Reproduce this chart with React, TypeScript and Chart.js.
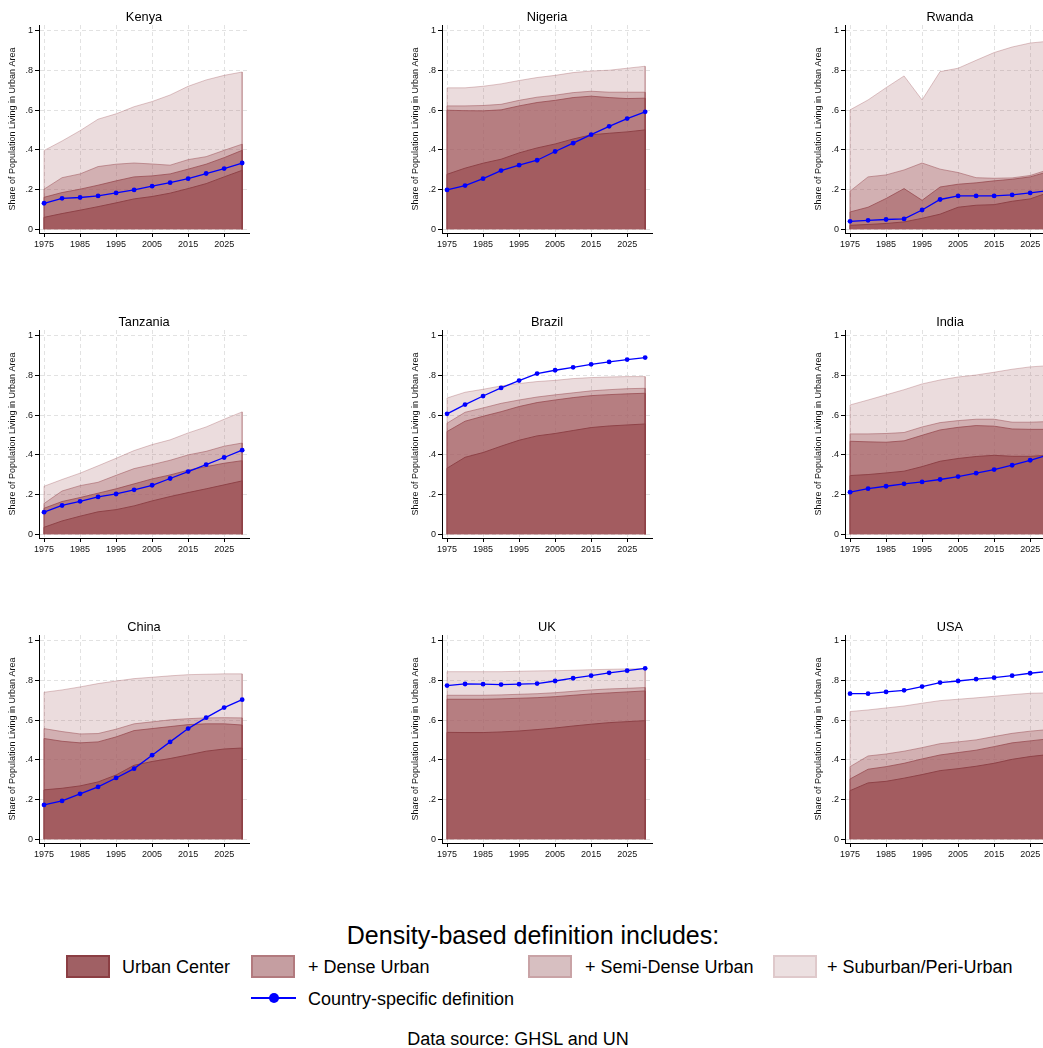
import React, { useEffect, useRef } from 'react';
import { Chart, registerables } from 'chart.js';

Chart.register(...registerables);

const YEARS = [1975, 1980, 1985, 1990, 1995, 2000, 2005, 2010, 2015, 2020, 2025, 2030];
const X_TICKS = [1975, 1985, 1995, 2005, 2015, 2025];
const Y_TICKS = [0, 0.2, 0.4, 0.6, 0.8, 1];
const Y_TICK_LABELS = ['0', '.2', '.4', '.6', '.8', '1'];
const Y_TITLE = 'Share of Population Living in Urban Area';

// Kenya
const KENYA_CENTER = [0.06, 0.079, 0.096, 0.114, 0.133, 0.153, 0.165, 0.182, 0.205, 0.23, 0.264, 0.297];
const KENYA_DENSE = [0.161, 0.185, 0.202, 0.222, 0.244, 0.264, 0.269, 0.279, 0.303, 0.328, 0.361, 0.398];
const KENYA_SEMI = [0.202, 0.26, 0.279, 0.316, 0.328, 0.334, 0.329, 0.323, 0.351, 0.366, 0.398, 0.429];
const KENYA_SUB = [0.397, 0.445, 0.497, 0.555, 0.582, 0.618, 0.644, 0.677, 0.721, 0.753, 0.776, 0.793];
const KENYA_NATIONAL = [0.131, 0.156, 0.16, 0.168, 0.183, 0.198, 0.217, 0.235, 0.255, 0.281, 0.306, 0.334];

// Nigeria
const NIGERIA_CENTER = [0.277, 0.308, 0.333, 0.353, 0.385, 0.41, 0.43, 0.455, 0.476, 0.484, 0.491, 0.501];
const NIGERIA_DENSE = [0.6, 0.598, 0.597, 0.602, 0.622, 0.639, 0.65, 0.664, 0.671, 0.664, 0.659, 0.661];
const NIGERIA_SEMI = [0.622, 0.622, 0.624, 0.63, 0.65, 0.666, 0.676, 0.689, 0.696, 0.691, 0.691, 0.691];
const NIGERIA_SUB = [0.713, 0.713, 0.721, 0.733, 0.75, 0.765, 0.776, 0.79, 0.798, 0.802, 0.812, 0.822];
const NIGERIA_NATIONAL = [0.198, 0.22, 0.255, 0.296, 0.323, 0.348, 0.392, 0.434, 0.477, 0.519, 0.558, 0.592];

// Rwanda
const RWANDA_CENTER = [0.02, 0.024, 0.029, 0.037, 0.055, 0.076, 0.111, 0.121, 0.124, 0.141, 0.153, 0.185];
const RWANDA_DENSE = [0.087, 0.111, 0.155, 0.205, 0.146, 0.213, 0.227, 0.234, 0.244, 0.252, 0.264, 0.29];
const RWANDA_SEMI = [0.192, 0.264, 0.274, 0.299, 0.334, 0.303, 0.286, 0.26, 0.257, 0.259, 0.271, 0.3];
const RWANDA_SUB = [0.602, 0.652, 0.714, 0.773, 0.652, 0.795, 0.812, 0.852, 0.891, 0.919, 0.939, 0.948];
const RWANDA_NATIONAL = [0.04, 0.045, 0.049, 0.052, 0.097, 0.15, 0.168, 0.168, 0.168, 0.173, 0.183, 0.195];

// Tanzania
const TANZANIA_CENTER = [0.035, 0.067, 0.091, 0.113, 0.124, 0.143, 0.168, 0.19, 0.21, 0.229, 0.249, 0.269];
const TANZANIA_DENSE = [0.131, 0.165, 0.185, 0.207, 0.229, 0.254, 0.279, 0.299, 0.323, 0.341, 0.358, 0.371];
const TANZANIA_SEMI = [0.155, 0.218, 0.245, 0.262, 0.297, 0.331, 0.351, 0.373, 0.4, 0.418, 0.444, 0.46];
const TANZANIA_SUB = [0.242, 0.276, 0.308, 0.345, 0.383, 0.422, 0.452, 0.476, 0.511, 0.541, 0.58, 0.617];
const TANZANIA_NATIONAL = [0.111, 0.145, 0.166, 0.188, 0.203, 0.224, 0.247, 0.281, 0.316, 0.351, 0.387, 0.424];

// Brazil
const BRAZIL_CENTER = [0.333, 0.388, 0.412, 0.444, 0.474, 0.496, 0.508, 0.523, 0.538, 0.546, 0.551, 0.556];
const BRAZIL_DENSE = [0.518, 0.57, 0.595, 0.618, 0.644, 0.664, 0.677, 0.689, 0.699, 0.704, 0.708, 0.711];
const BRAZIL_SEMI = [0.56, 0.615, 0.637, 0.66, 0.677, 0.692, 0.703, 0.713, 0.723, 0.729, 0.734, 0.736];
const BRAZIL_SUB = [0.687, 0.716, 0.731, 0.748, 0.76, 0.77, 0.776, 0.785, 0.79, 0.793, 0.795, 0.795];
const BRAZIL_NATIONAL = [0.607, 0.654, 0.697, 0.738, 0.775, 0.81, 0.827, 0.842, 0.857, 0.869, 0.881, 0.891];

// India
const INDIA_CENTER = [0.296, 0.301, 0.309, 0.318, 0.341, 0.368, 0.382, 0.392, 0.398, 0.393, 0.393, 0.398];
const INDIA_DENSE = [0.469, 0.466, 0.464, 0.471, 0.499, 0.526, 0.539, 0.548, 0.545, 0.531, 0.529, 0.529];
const INDIA_SEMI = [0.506, 0.506, 0.508, 0.513, 0.541, 0.563, 0.573, 0.58, 0.58, 0.565, 0.565, 0.568];
const INDIA_SUB = [0.652, 0.677, 0.703, 0.729, 0.758, 0.778, 0.793, 0.803, 0.817, 0.832, 0.844, 0.85];
const INDIA_NATIONAL = [0.212, 0.23, 0.242, 0.254, 0.264, 0.276, 0.291, 0.308, 0.326, 0.348, 0.373, 0.4];

// China
const CHINA_CENTER = [0.249, 0.257, 0.269, 0.289, 0.324, 0.373, 0.392, 0.407, 0.425, 0.444, 0.455, 0.46];
const CHINA_DENSE = [0.508, 0.494, 0.486, 0.491, 0.516, 0.548, 0.558, 0.568, 0.578, 0.582, 0.582, 0.576];
const CHINA_SEMI = [0.558, 0.543, 0.531, 0.533, 0.555, 0.582, 0.592, 0.602, 0.608, 0.612, 0.613, 0.612];
const CHINA_SUB = [0.741, 0.753, 0.768, 0.785, 0.798, 0.81, 0.817, 0.824, 0.83, 0.832, 0.834, 0.834];
const CHINA_NATIONAL = [0.173, 0.193, 0.229, 0.264, 0.309, 0.356, 0.424, 0.491, 0.558, 0.613, 0.664, 0.704];

// UK
const UK_CENTER = [0.539, 0.538, 0.538, 0.541, 0.546, 0.553, 0.561, 0.571, 0.58, 0.588, 0.593, 0.598];
const UK_DENSE = [0.706, 0.706, 0.706, 0.708, 0.711, 0.714, 0.719, 0.726, 0.733, 0.738, 0.743, 0.748];
const UK_SEMI = [0.726, 0.726, 0.726, 0.728, 0.731, 0.734, 0.739, 0.746, 0.753, 0.758, 0.761, 0.765];
const UK_SUB = [0.845, 0.845, 0.845, 0.845, 0.847, 0.849, 0.85, 0.852, 0.855, 0.857, 0.859, 0.86];
const UK_NATIONAL = [0.775, 0.783, 0.782, 0.78, 0.782, 0.785, 0.798, 0.812, 0.825, 0.839, 0.85, 0.862];

// USA
const USA_CENTER = [0.245, 0.284, 0.292, 0.308, 0.326, 0.346, 0.356, 0.368, 0.383, 0.403, 0.417, 0.427];
const USA_DENSE = [0.304, 0.353, 0.366, 0.383, 0.405, 0.425, 0.437, 0.449, 0.467, 0.486, 0.496, 0.506];
const USA_SEMI = [0.366, 0.42, 0.43, 0.444, 0.462, 0.482, 0.491, 0.501, 0.518, 0.534, 0.545, 0.553];
const USA_SUB = [0.644, 0.652, 0.662, 0.672, 0.686, 0.699, 0.706, 0.713, 0.721, 0.729, 0.736, 0.738];
const USA_NATIONAL = [0.734, 0.734, 0.743, 0.751, 0.77, 0.79, 0.798, 0.807, 0.815, 0.825, 0.837, 0.847];

const PANELS = [
  { name: 'Kenya', center: KENYA_CENTER, dense: KENYA_DENSE, semi: KENYA_SEMI, sub: KENYA_SUB, national: KENYA_NATIONAL },
  { name: 'Nigeria', center: NIGERIA_CENTER, dense: NIGERIA_DENSE, semi: NIGERIA_SEMI, sub: NIGERIA_SUB, national: NIGERIA_NATIONAL },
  { name: 'Rwanda', center: RWANDA_CENTER, dense: RWANDA_DENSE, semi: RWANDA_SEMI, sub: RWANDA_SUB, national: RWANDA_NATIONAL },
  { name: 'Tanzania', center: TANZANIA_CENTER, dense: TANZANIA_DENSE, semi: TANZANIA_SEMI, sub: TANZANIA_SUB, national: TANZANIA_NATIONAL },
  { name: 'Brazil', center: BRAZIL_CENTER, dense: BRAZIL_DENSE, semi: BRAZIL_SEMI, sub: BRAZIL_SUB, national: BRAZIL_NATIONAL },
  { name: 'India', center: INDIA_CENTER, dense: INDIA_DENSE, semi: INDIA_SEMI, sub: INDIA_SUB, national: INDIA_NATIONAL },
  { name: 'China', center: CHINA_CENTER, dense: CHINA_DENSE, semi: CHINA_SEMI, sub: CHINA_SUB, national: CHINA_NATIONAL },
  { name: 'UK', center: UK_CENTER, dense: UK_DENSE, semi: UK_SEMI, sub: UK_SUB, national: UK_NATIONAL },
  { name: 'USA', center: USA_CENTER, dense: USA_DENSE, semi: USA_SEMI, sub: USA_SUB, national: USA_NATIONAL },
];

const LEGEND_TITLE = 'Density-based definition includes:';
const SERIES_LABELS = ['Urban Center', '+ Dense Urban', '+ Semi-Dense Urban', '+ Suburban/Peri-Urban'];
const NATIONAL_LABEL = 'Country-specific definition';
const SOURCE_NOTE = 'Data source: GHSL and UN';

const FONT = '"Liberation Sans", Arial, Helvetica, sans-serif';
// translucent maroon layers, stacked from the origin like the original
const FILLS = ['rgba(163,92,96,1)', 'rgba(163,92,96,0.6)', 'rgba(163,92,96,0.35)', 'rgba(163,92,96,0.215)'];
const LINES = ['#8E4247', 'rgba(150,72,78,0.75)', 'rgba(160,90,95,0.55)', 'rgba(163,92,96,0.35)'];
const SWATCH_FILLS = ['#A06064', '#C59EA1', '#D7BFC1', '#ECE0E1'];
const SWATCH_BORDERS = ['#8B3E43', '#B27A7E', '#C9A3A6', '#DFC9CB'];
const BLUE = '#0000FF';

const PANEL_W = 403;
const PANEL_H = 305;

function areaData(arr: number[]) {
  const pts = YEARS.map((x, i) => ({ x, y: arr[i] }));
  return [{ x: YEARS[0], y: 0 }, ...pts, { x: YEARS[YEARS.length - 1], y: 0 }];
}

function Panel({ panel, left, top }: { panel: any; left: number; top: number }) {
  const ref = useRef<HTMLCanvasElement>(null);
  useEffect(() => {
    const titlePlugin = {
      id: 'panelTitle',
      afterDraw(chart: any) {
        const { ctx, chartArea } = chart;
        ctx.save();
        ctx.font = `12.8px ${FONT}`;
        ctx.fillStyle = '#000';
        ctx.textAlign = 'center';
        ctx.textBaseline = 'middle';
        ctx.fillText(panel.name, (chartArea.left + chartArea.right) / 2, 17);
        ctx.restore();
      },
    };
    const series = [panel.center, panel.dense, panel.semi, panel.sub];
    const areaSets = series.map((arr: number[], k: number) => ({
      label: SERIES_LABELS[k],
      data: areaData(arr),
      borderColor: LINES[k],
      backgroundColor: FILLS[k],
      borderWidth: 1,
      fill: 'origin',
      pointRadius: 0,
      tension: 0,
    }));
    const chart = new Chart(ref.current as HTMLCanvasElement, {
      type: 'line',
      data: {
        datasets: [
          {
            label: NATIONAL_LABEL,
            data: YEARS.map((x, i) => ({ x, y: panel.national[i] })),
            borderColor: BLUE,
            backgroundColor: BLUE,
            borderWidth: 1.3,
            pointRadius: 2.4,
            pointBorderWidth: 0,
            pointBackgroundColor: BLUE,
            fill: false,
            tension: 0,
          },
          ...areaSets,
        ] as any,
      },
      options: {
        animation: false,
        responsive: false,
        maintainAspectRatio: false,
        events: [],
        layout: { padding: { left: 0, right: PANEL_W - 249, top: 25, bottom: 52 } },
        plugins: { legend: { display: false }, tooltip: { enabled: false }, title: { display: false } },
        scales: {
          x: {
            type: 'linear',
            min: 1973.6,
            max: 2031.9,
            afterBuildTicks: (s: any) => {
              s.ticks = X_TICKS.map((v) => ({ value: v }));
            },
            afterFit: (s: any) => {
              s.height = 20;
            },
            ticks: {
              autoSkip: false,
              maxRotation: 0,
              padding: 2,
              color: '#111',
              font: { family: FONT, size: 9 },
              callback: (v: any) => String(v),
            },
            grid: {
              color: '#E2E2E2',
              lineWidth: 1,
              drawTicks: true,
              tickLength: 4,
              tickColor: '#000',
              tickWidth: 1,
              borderDash: [4, 3],
            } as any,
            border: { display: true, color: '#000', width: 1, dash: [4, 3] },
          },
          y: {
            type: 'linear',
            min: -0.019,
            max: 1.03,
            afterBuildTicks: (s: any) => {
              s.ticks = Y_TICKS.map((v) => ({ value: v }));
            },
            afterFit: (s: any) => {
              s.width = 39;
            },
            ticks: {
              autoSkip: false,
              padding: 2,
              color: '#111',
              font: { family: FONT, size: 9 },
              callback: (v: any) => {
                const idx = Y_TICKS.findIndex((t) => Math.abs(t - v) < 1e-9);
                return idx >= 0 ? Y_TICK_LABELS[idx] : '';
              },
            },
            title: {
              display: true,
              text: Y_TITLE,
              color: '#111',
              font: { family: FONT, size: 9 },
              padding: { top: 7.6, bottom: 0 },
            },
            grid: {
              color: '#E2E2E2',
              lineWidth: 1,
              drawTicks: true,
              tickLength: 4,
              tickColor: '#000',
              tickWidth: 1,
              borderDash: [4, 3],
            } as any,
            border: { display: true, color: '#000', width: 1, dash: [4, 3] },
          },
        },
      } as any,
      plugins: [titlePlugin],
    });
    return () => chart.destroy();
  }, [panel]);
  return (
    <canvas
      ref={ref}
      width={PANEL_W}
      height={PANEL_H}
      style={{ position: 'absolute', left, top, width: PANEL_W, height: PANEL_H }}
    />
  );
}

function Swatch({ x, k }: { x: number; k: number }) {
  return (
    <div
      style={{
        position: 'absolute',
        left: x,
        top: 955,
        width: 44,
        height: 23,
        boxSizing: 'border-box',
        background: SWATCH_FILLS[k],
        border: `2px solid ${SWATCH_BORDERS[k]}`,
      }}
    />
  );
}

function Label({ x, y, text, size = 18, center = false }: { x: number; y: number; text: string; size?: number; center?: boolean }) {
  return (
    <div
      style={{
        position: 'absolute',
        left: x,
        top: y,
        transform: center ? 'translate(-50%, -50%)' : 'translateY(-50%)',
        fontFamily: FONT,
        fontSize: size,
        lineHeight: 1,
        color: '#000',
        whiteSpace: 'nowrap',
      }}
    >
      {text}
    </div>
  );
}

export default function App() {
  const swatchX = [66, 251, 528, 773];
  const labelX = [122, 308, 585, 827];
  return (
    <div
      style={{
        position: 'absolute',
        left: 0,
        top: 0,
        width: 1043,
        height: 1048,
        overflow: 'hidden',
        background: '#fff',
      }}
    >
      {PANELS.map((p, i) => (
        <Panel key={p.name} panel={p} left={(i % 3) * PANEL_W} top={Math.floor(i / 3) * PANEL_H} />
      ))}
      <Label x={533} y={935} text={LEGEND_TITLE} size={25} center />
      {SERIES_LABELS.map((t, k) => (
        <React.Fragment key={t}>
          <Swatch x={swatchX[k]} k={k} />
          <Label x={labelX[k]} y={967} text={t} />
        </React.Fragment>
      ))}
      <div style={{ position: 'absolute', left: 251, top: 997, width: 45, height: 2, background: BLUE }} />
      <div
        style={{
          position: 'absolute',
          left: 268.5,
          top: 993,
          width: 10,
          height: 10,
          borderRadius: '50%',
          background: BLUE,
        }}
      />
      <Label x={308} y={999} text={NATIONAL_LABEL} />
      <Label x={518} y={1039} text={SOURCE_NOTE} center />
    </div>
  );
}
